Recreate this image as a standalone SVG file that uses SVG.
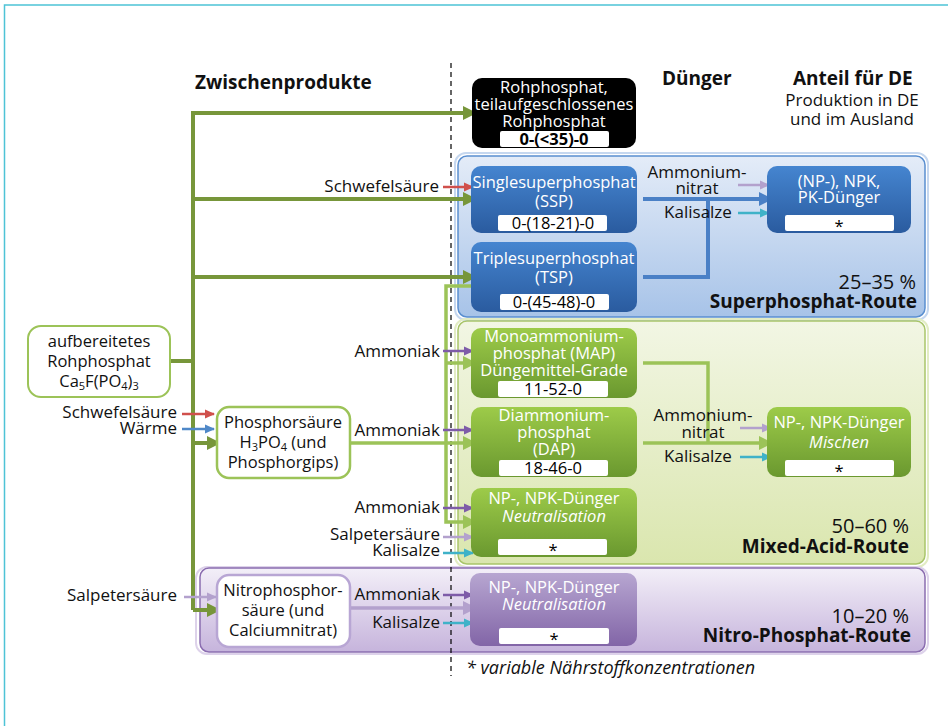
<svg xmlns="http://www.w3.org/2000/svg" width="948" height="726" viewBox="0 0 948 726">
<defs>
<style>
text{font-family:"Open Sans","Noto Sans","DejaVu Sans",sans-serif;fill:#111;}
.h{font-size:19px;font-weight:bold;}
.s{font-size:17px;}
.n{font-size:16.5px;fill:#fff;text-anchor:middle;}
.nb{font-size:16.5px;text-anchor:middle;}
.v{font-size:16.5px;text-anchor:middle;fill:#000;}
.vb{font-weight:bold;}
.r{text-anchor:end;}
.pct{font-size:20px;text-anchor:end;}
.route{font-size:19px;font-weight:bold;text-anchor:end;}
.it{font-style:italic;}
.box{fill:#fff;}
.ol{stroke:#77963a;stroke-width:4;fill:none;}
.lg{stroke:#9cc358;stroke-width:3.5;fill:none;}
.bl{stroke:#4a80c6;stroke-width:4;fill:none;}
.ar{stroke-width:2.5;fill:none;}
</style>
<linearGradient id="gBlueN" x1="0" y1="0" x2="0" y2="1"><stop offset="0" stop-color="#4585d0"/><stop offset="1" stop-color="#2a5b9f"/></linearGradient>
<linearGradient id="gGreenN" x1="0" y1="0" x2="0" y2="1"><stop offset="0" stop-color="#9dcb49"/><stop offset="1" stop-color="#6a982f"/></linearGradient>
<linearGradient id="gPurpN" x1="0" y1="0" x2="0" y2="1"><stop offset="0" stop-color="#b7a6d1"/><stop offset="1" stop-color="#8265a7"/></linearGradient>
<linearGradient id="gBlueC" x1="0" y1="0" x2="0" y2="1"><stop offset="0" stop-color="#e4ecf8"/><stop offset="1" stop-color="#a7c3e8"/></linearGradient>
<linearGradient id="gGreenC" x1="0" y1="0" x2="0" y2="1"><stop offset="0" stop-color="#f2f6e4"/><stop offset="1" stop-color="#dae6ae"/></linearGradient>
<linearGradient id="gPurpC" x1="0" y1="0" x2="0" y2="1"><stop offset="0" stop-color="#f3eff8"/><stop offset="1" stop-color="#c6b4dc"/></linearGradient>
<marker id="mOl" markerUnits="userSpaceOnUse" markerWidth="14" markerHeight="14" refX="13" refY="7" orient="auto"><path d="M0,0 L14,7 L0,14 Z" fill="#77963a"/></marker>
<marker id="mLg" markerUnits="userSpaceOnUse" markerWidth="14" markerHeight="14" refX="13" refY="7" orient="auto"><path d="M0,0 L14,7 L0,14 Z" fill="#9cc358"/></marker>
<marker id="mBl" markerUnits="userSpaceOnUse" markerWidth="14" markerHeight="14" refX="13" refY="7" orient="auto"><path d="M0,0 L14,7 L0,14 Z" fill="#4a80c6"/></marker>
<marker id="mLv2" markerUnits="userSpaceOnUse" markerWidth="14" markerHeight="14" refX="13" refY="7" orient="auto"><path d="M0,0 L14,7 L0,14 Z" fill="#b3a1cd"/></marker>
<marker id="mRd" markerUnits="userSpaceOnUse" markerWidth="10" markerHeight="10" refX="9" refY="5" orient="auto"><path d="M0,0.5 L10,5 L0,9.5 Z" fill="#d0504c"/></marker>
<marker id="mBu" markerUnits="userSpaceOnUse" markerWidth="10" markerHeight="10" refX="9" refY="5" orient="auto"><path d="M0,0.5 L10,5 L0,9.5 Z" fill="#4f88c8"/></marker>
<marker id="mPu" markerUnits="userSpaceOnUse" markerWidth="10" markerHeight="10" refX="9" refY="5" orient="auto"><path d="M0,0.5 L10,5 L0,9.5 Z" fill="#7e5ca8"/></marker>
<marker id="mLv" markerUnits="userSpaceOnUse" markerWidth="10" markerHeight="10" refX="9" refY="5" orient="auto"><path d="M0,0.5 L10,5 L0,9.5 Z" fill="#b3a1cd"/></marker>
<marker id="mCy" markerUnits="userSpaceOnUse" markerWidth="10" markerHeight="10" refX="9" refY="5" orient="auto"><path d="M0,0.5 L10,5 L0,9.5 Z" fill="#3fb2c8"/></marker>
</defs>
<rect width="948" height="726" fill="#fff"/>
<path d="M4.5,726 V5 H948" fill="none" stroke="#4ec3d6" stroke-width="1.5"/>

<!-- headers -->
<g id="headers">
<text class="h" x="195" y="89">Zwischenprodukte</text>
<text class="h" x="662" y="85">Dünger</text>
<text class="h" x="793" y="85">Anteil für DE</text>
<text class="s" x="852" y="106" text-anchor="middle">Produktion in DE</text>
<text class="s" x="852" y="125" text-anchor="middle">und im Ausland</text>
</g>

<!-- containers -->
<g id="route-superphosphat">
<rect x="455" y="153" width="473" height="167" rx="11" fill="none" stroke="#c5d7ef" stroke-width="2"/>
<rect x="458" y="156" width="467" height="161" rx="9" fill="url(#gBlueC)" stroke="#5a8fd0" stroke-width="1.5"/>
<text class="pct" x="916" y="289">25–35 %</text>
<text class="route" x="917" y="308">Superphosphat-Route</text>
</g>
<g id="route-mixed-acid">
<rect x="455" y="319" width="473" height="248" rx="11" fill="none" stroke="#e2ecc4" stroke-width="2"/>
<rect x="458" y="321" width="467" height="243" rx="9" fill="url(#gGreenC)" stroke="#a9c56a" stroke-width="1.5"/>
<text class="pct" x="909" y="533">50–60 %</text>
<text class="route" x="909" y="553">Mixed-Acid-Route</text>
</g>
<g id="route-nitro">
<rect x="196" y="567" width="732" height="87" rx="11" fill="none" stroke="#ddd2ea" stroke-width="2"/>
<rect x="200" y="568" width="725" height="84" rx="9" fill="url(#gPurpC)" stroke="#8b6db0" stroke-width="1.5"/>
<text class="pct" x="909" y="623">10–20 %</text>
<text class="route" x="911" y="642">Nitro-Phosphat-Route</text>
</g>

<line x1="451" y1="63" x2="451" y2="676" stroke="#000" stroke-width="1.2" stroke-dasharray="5,4"/>

<!-- connectors -->
<g id="connectors">
<path class="ol" d="M170,361 H193 M193,111 V610"/>
<path class="ol" d="M193,113 H476" marker-end="url(#mOl)"/>
<path class="ol" d="M193,199 H476" marker-end="url(#mOl)"/>
<path class="ol" d="M193,277 H476" marker-end="url(#mOl)"/>
<path class="ol" d="M193,443 H220" marker-end="url(#mOl)"/>
<path class="ol" d="M193,610 H220" marker-end="url(#mOl)"/>
<path class="lg" d="M350,443 H476" marker-end="url(#mLg)"/>
<path class="lg" d="M476,286 H446 V522 H476" marker-end="url(#mLg)"/>
<path class="lg" d="M446,363 H476" marker-end="url(#mLg)"/>
<path class="lg" d="M643,363 H708 V443"/>
<path class="lg" d="M643,443 H772" marker-end="url(#mLg)"/>
<path class="bl" d="M643,199 H772" marker-end="url(#mBl)"/>
<path class="bl" d="M643,277 H708 V199"/>
<path d="M350,608 H476" stroke="#b3a1cd" stroke-width="3.5" fill="none" marker-end="url(#mLv2)"/>
<path class="ar" stroke="#d0504c" d="M182,414 H214" marker-end="url(#mRd)"/>
<path class="ar" stroke="#4f88c8" d="M182,429 H214" marker-end="url(#mBu)"/>
<path class="ar" stroke="#d0504c" d="M443,187 H473" marker-end="url(#mRd)"/>
<path class="ar" stroke="#b3a1cd" d="M184,597 H216" marker-end="url(#mLv)"/>
<path class="ar" stroke="#7e5ca8" d="M443,351 H473" marker-end="url(#mPu)"/>
<path class="ar" stroke="#7e5ca8" d="M443,430 H473" marker-end="url(#mPu)"/>
<path class="ar" stroke="#7e5ca8" d="M443,508 H473" marker-end="url(#mPu)"/>
<path class="ar" stroke="#b3a1cd" d="M443,537 H473" marker-end="url(#mLv)"/>
<path class="ar" stroke="#3fb2c8" d="M443,553 H473" marker-end="url(#mCy)"/>
<path class="ar" stroke="#7e5ca8" d="M443,595 H473" marker-end="url(#mPu)"/>
<path class="ar" stroke="#3fb2c8" d="M443,623 H473" marker-end="url(#mCy)"/>
<path class="ar" stroke="#b3a1cd" d="M738,185 H769" marker-end="url(#mLv)"/>
<path class="ar" stroke="#3fb2c8" d="M738,213 H769" marker-end="url(#mCy)"/>
<path class="ar" stroke="#b3a1cd" d="M740,428 H771" marker-end="url(#mLv)"/>
<path class="ar" stroke="#3fb2c8" d="M740,457 H771" marker-end="url(#mCy)"/>
</g>

<!-- connector labels -->
<g id="labels">
<text class="s r" x="177" y="418">Schwefelsäure</text>
<text class="s r" x="177" y="434">Wärme</text>
<text class="s r" x="439" y="192">Schwefelsäure</text>
<text class="s r" x="177" y="601">Salpetersäure</text>
<text class="s r" x="440" y="357">Ammoniak</text>
<text class="s r" x="440" y="436">Ammoniak</text>
<text class="s r" x="440" y="513">Ammoniak</text>
<text class="s r" x="440" y="540">Salpetersäure</text>
<text class="s r" x="440" y="556">Kalisalze</text>
<text class="s r" x="440" y="600">Ammoniak</text>
<text class="s r" x="440" y="628">Kalisalze</text>
<text class="s" x="697" y="178" text-anchor="middle">Ammonium-</text>
<text class="s" x="697" y="194" text-anchor="middle">nitrat</text>
<text class="s" x="698" y="218" text-anchor="middle">Kalisalze</text>
<text class="s" x="703" y="421" text-anchor="middle">Ammonium-</text>
<text class="s" x="703" y="438" text-anchor="middle">nitrat</text>
<text class="s" x="698" y="462" text-anchor="middle">Kalisalze</text>
</g>

<!-- nodes -->
<g id="n-rohphosphat">
<rect x="28" y="326" width="142" height="71" rx="13" fill="#fff" stroke="#9cc358" stroke-width="2"/>
<text class="nb" x="99" y="347">aufbereitetes</text>
<text class="nb" x="99" y="367">Rohphosphat</text>
<text class="nb" x="99" y="387">Ca<tspan font-size="11" dy="3">5</tspan><tspan dy="-3">F(PO</tspan><tspan font-size="11" dy="3">4</tspan><tspan dy="-3">)</tspan><tspan font-size="11" dy="3">3</tspan></text>
</g>
<g id="n-phosphorsaeure">
<rect x="217" y="407" width="133" height="71" rx="12" fill="#fff" stroke="#9cc358" stroke-width="2.5"/>
<text class="nb" x="283" y="428">Phosphorsäure</text>
<text class="nb" x="283" y="448">H<tspan font-size="11" dy="3">3</tspan><tspan dy="-3">PO</tspan><tspan font-size="11" dy="3">4</tspan><tspan dy="-3"> (und</tspan></text>
<text class="nb" x="283" y="468">Phosphorgips)</text>
</g>
<g id="n-nitrophosphorsaeure">
<rect x="217" y="575" width="133" height="72" rx="12" fill="#fff" stroke="#b8a6d4" stroke-width="2.5"/>
<text class="nb" x="283" y="596">Nitrophosphor-</text>
<text class="nb" x="283" y="616">säure (und</text>
<text class="nb" x="283" y="636">Calciumnitrat)</text>
</g>
<g id="n-teilaufgeschlossen">
<rect x="472" y="78" width="164" height="70" rx="10" fill="#000"/>
<text class="n" x="554" y="93">Rohphosphat,</text>
<text class="n" x="554" y="110">teilaufgeschlossenes</text>
<text class="n" x="554" y="127">Rohphosphat</text>
<rect class="box" x="500" y="131" width="109" height="16" rx="2"/>
<text class="v vb" x="554" y="145">0-(&lt;35)-0</text>
</g>
<g id="n-ssp">
<rect x="471" y="166" width="166" height="67" rx="10" fill="url(#gBlueN)"/>
<text class="n" x="554" y="188">Singlesuperphosphat</text>
<text class="n" x="554" y="207">(SSP)</text>
<rect class="box" x="498" y="215" width="109" height="16" rx="2"/>
<text class="v" x="553" y="229">0-(18-21)-0</text>
</g>
<g id="n-tsp">
<rect x="471" y="242" width="166" height="70" rx="10" fill="url(#gBlueN)"/>
<text class="n" x="554" y="264">Triplesuperphosphat</text>
<text class="n" x="554" y="283">(TSP)</text>
<rect class="box" x="500" y="294" width="109" height="16" rx="2"/>
<text class="v" x="554" y="308">0-(45-48)-0</text>
</g>
<g id="n-npk-super">
<rect x="767" y="166" width="144" height="67" rx="10" fill="url(#gBlueN)"/>
<text class="n" x="839" y="187">(NP-), NPK,</text>
<text class="n" x="839" y="203">PK-Dünger</text>
<rect class="box" x="785" y="215" width="109" height="16" rx="2"/>
<text class="v" x="839" y="232">*</text>
</g>
<g id="n-map">
<rect x="471" y="328" width="166" height="70" rx="10" fill="url(#gGreenN)"/>
<text class="n" x="554" y="342">Monoammonium-</text>
<text class="n" x="554" y="359">phosphat (MAP)</text>
<text class="n" x="554" y="376">Düngemittel-Grade</text>
<rect class="box" x="498" y="381" width="110" height="16" rx="2"/>
<text class="v" x="553" y="395">11-52-0</text>
</g>
<g id="n-dap">
<rect x="471" y="407" width="166" height="70" rx="10" fill="url(#gGreenN)"/>
<text class="n" x="554" y="421">Diammonium-</text>
<text class="n" x="554" y="438">phosphat</text>
<text class="n" x="554" y="455">(DAP)</text>
<rect class="box" x="499" y="460" width="109" height="16" rx="2"/>
<text class="v" x="553" y="474">18-46-0</text>
</g>
<g id="n-npk-neutral-mixed">
<rect x="471" y="488" width="166" height="69" rx="10" fill="url(#gGreenN)"/>
<text class="n" x="554" y="504">NP-, NPK-Dünger</text>
<text class="n it" x="554" y="522">Neutralisation</text>
<rect class="box" x="498" y="539" width="109" height="16" rx="2"/>
<text class="v" x="553" y="556">*</text>
</g>
<g id="n-npk-mischen">
<rect x="767" y="407" width="144" height="70" rx="10" fill="url(#gGreenN)"/>
<text class="n" x="839" y="428">NP-, NPK-Dünger</text>
<text class="n it" x="839" y="448">Mischen</text>
<rect class="box" x="785" y="460" width="109" height="16" rx="2"/>
<text class="v" x="839" y="477">*</text>
</g>
<g id="n-npk-neutral-nitro">
<rect x="470" y="573" width="167" height="73" rx="10" fill="url(#gPurpN)"/>
<text class="n" x="554" y="593">NP-, NPK-Dünger</text>
<text class="n it" x="554" y="610">Neutralisation</text>
<rect class="box" x="499" y="628" width="110" height="16" rx="2"/>
<text class="v" x="554" y="645">*</text>
</g>

<text class="it" font-size="18" x="466" y="674">* variable Nährstoffkonzentrationen</text>
</svg>
